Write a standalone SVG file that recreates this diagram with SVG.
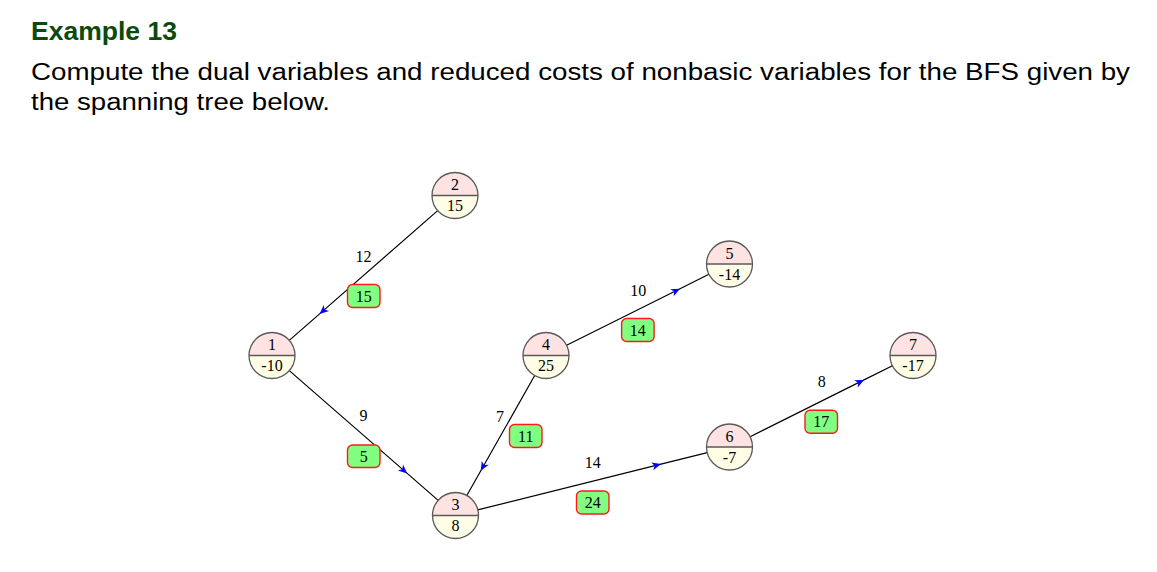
<svg xmlns="http://www.w3.org/2000/svg" width="1157" height="572" viewBox="0 0 1157 572">
<style>
.title{font-family:"Liberation Sans","DejaVu Sans",sans-serif;font-weight:bold;font-size:26px;fill:#0b4a0b}
.body{font-family:"Liberation Sans","DejaVu Sans",sans-serif;font-size:23.5px;fill:#000}
.top{fill:#ffe3e3}
.bot{fill:#fffde6}
.ring{fill:none;stroke:#5a5a5a;stroke-width:1.3}
.div{stroke:#5a5a5a;stroke-width:1.3}
.nt{font-family:"Liberation Serif","DejaVu Serif",serif;font-size:16px;text-anchor:middle;fill:#000}
.lab{font-family:"Liberation Serif","DejaVu Serif",serif;font-size:16px;text-anchor:middle;fill:#000}
.box{fill:#80ff80;stroke:#ff1a1a;stroke-width:1.4}
.edge{fill:none;stroke:#000;stroke-width:1.2;marker-mid:url(#ah)}
</style>
<defs>
<marker id="ah" markerUnits="userSpaceOnUse" markerWidth="14" markerHeight="12" viewBox="-10 -6 12 12" refX="0" refY="0" orient="auto">
<path d="M0,0 L-9,-4 L-6.5,0 L-9,4 Z" fill="#0000ff"/>
</marker>
<g id="nodeshape">
<path class="top" d="M-23,0 A23,23 0 0 1 23,0 Z"/>
<path class="bot" d="M-23,0 A23,23 0 0 0 23,0 Z"/>
<line class="div" x1="-23" y1="0" x2="23" y2="0"/>
<circle class="ring" r="23"/>
</g>
</defs>
<rect width="1157" height="572" fill="#fff"/>
<text class="title" x="31" y="40" textLength="146" lengthAdjust="spacingAndGlyphs">Example 13</text>
<text class="body" x="31" y="80" textLength="1099" lengthAdjust="spacingAndGlyphs">Compute the dual variables and reduced costs of nonbasic variables for the BFS given by</text>
<text class="body" x="31" y="110" textLength="299" lengthAdjust="spacingAndGlyphs">the spanning tree below.</text>
<g id="connectors">
<g id="e21"><polyline class="edge" points="437.7,210.6 319.6,313.9 289.3,340.4"/>
<text class="lab" x="363.5" y="261.5">12</text>
<rect class="box" x="347.5" y="284.5" width="32.5" height="23" rx="5"/><text class="lab" x="363.7" y="301.5">15</text></g>
<g id="e13"><polyline class="edge" points="289.3,370.6 407.2,473.4 438.2,500.4"/>
<text class="lab" x="363.5" y="420.5">9</text>
<rect class="box" x="347.5" y="445" width="32.5" height="22.5" rx="5"/><text class="lab" x="363.7" y="461.8">5</text></g>
<g id="e43"><polyline class="edge" points="534.7,375.5 480.8,470.7 466.8,495.5"/>
<text class="lab" x="500" y="422">7</text>
<rect class="box" x="509.5" y="424.5" width="32.5" height="23" rx="5"/><text class="lab" x="525.8" y="441.5">11</text></g>
<g id="e36"><polyline class="edge" points="477.8,509.9 661,464.1 707.2,452.6"/>
<text class="lab" x="592.7" y="468">14</text>
<rect class="box" x="576.5" y="491" width="32.5" height="23" rx="5"/><text class="lab" x="592.7" y="508">24</text></g>
<g id="e45"><polyline class="edge" points="566.6,345.2 680,288.7 708.9,274.3"/>
<text class="lab" x="638.3" y="295.5">10</text>
<rect class="box" x="621.6" y="318.5" width="32.5" height="23" rx="5"/><text class="lab" x="637.8" y="335.5">14</text></g>
<g id="e67"><polyline class="edge" points="750.1,436.7 864,379.9 892.4,365.8"/>
<text class="lab" x="821.7" y="387">8</text>
<rect class="box" x="805" y="410.2" width="32.5" height="23" rx="5"/><text class="lab" x="821.2" y="427.2">17</text></g>
</g>
<g id="n1"><use href="#nodeshape" x="272" y="355.5"/><text class="nt" x="272" y="350">1</text><text class="nt" x="272" y="371">-10</text></g>
<g id="n2"><use href="#nodeshape" x="455" y="195.5"/><text class="nt" x="455" y="190">2</text><text class="nt" x="455" y="211">15</text></g>
<g id="n3"><use href="#nodeshape" x="455.5" y="515.5"/><text class="nt" x="455.5" y="510">3</text><text class="nt" x="455.5" y="531">8</text></g>
<g id="n4"><use href="#nodeshape" x="546" y="355.5"/><text class="nt" x="546" y="350">4</text><text class="nt" x="546" y="371">25</text></g>
<g id="n5"><use href="#nodeshape" x="729.5" y="264"/><text class="nt" x="729.5" y="258.5">5</text><text class="nt" x="729.5" y="279.5">-14</text></g>
<g id="n6"><use href="#nodeshape" x="729.5" y="447"/><text class="nt" x="729.5" y="441.5">6</text><text class="nt" x="729.5" y="462.5">-7</text></g>
<g id="n7"><use href="#nodeshape" x="913" y="355.5"/><text class="nt" x="913" y="350">7</text><text class="nt" x="913" y="371">-17</text></g>
</svg>
